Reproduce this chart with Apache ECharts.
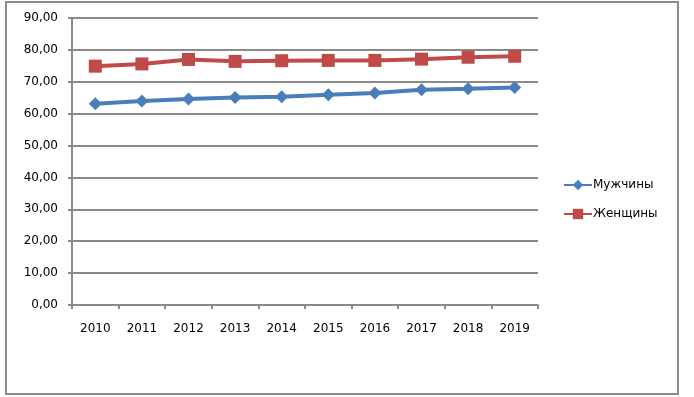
<!DOCTYPE html>
<html>
<head>
<meta charset="utf-8">
<script src="https://cdn.jsdelivr.net/npm/echarts@6/dist/echarts.min.js"></script>
<style>
  html, body { margin: 0; padding: 0; background: #fff; }
  #frame { position: absolute; left: 5px; top: 1px; width: 670px; height: 390px; border: 2px solid #8c8c8c; }
  #chart { position: absolute; left: 0; top: 0; width: 694px; height: 397px; }
</style>
</head>
<body>
<div id="frame"></div>
<div id="chart"></div>
<script>
const years = ['2010', '2011', '2012', '2013', '2014', '2015', '2016', '2017', '2018', '2019']
const men = [63.1, 64.0, 64.6, 65.1, 65.3, 65.9, 66.5, 67.5, 67.8, 68.2]
const women = [74.9, 75.6, 77.0, 76.4, 76.6, 76.7, 76.7, 77.1, 77.7, 78.0]

const font = 'Verdana, "DejaVu Sans", sans-serif'
const gridColor = '#8a8a8a'
const chart = echarts.init(document.getElementById('chart'))

chart.setOption({
  animation: false,
  textStyle: { fontFamily: font },
  grid: { left: 72, right: 156, top: 18, bottom: 92, containLabel: false },
  legend: {
    orient: 'vertical',
    left: 558,
    top: 174,
    itemGap: 17,
    itemWidth: 28,
    itemHeight: 13,
    textStyle: { fontFamily: font, fontSize: 12, color: '#000', padding: [0, 0, 0, -4] },
    data: ['Мужчины', 'Женщины']
  },
  xAxis: {
    type: 'category',
    data: years,
    boundaryGap: true,
    axisLine: { lineStyle: { color: gridColor, width: 2 } },
    axisTick: { show: true, length: 4, lineStyle: { color: gridColor, width: 2 } },
    axisLabel: { color: '#000', fontSize: 12, margin: 18, fontFamily: font }
  },
  yAxis: {
    type: 'value',
    min: 0,
    max: 90,
    interval: 10,
    axisLine: { show: true, lineStyle: { color: gridColor, width: 2 } },
    axisTick: { show: true, length: 4, lineStyle: { color: gridColor, width: 2 } },
    splitLine: { lineStyle: { color: gridColor, width: 2 } },
    axisLabel: {
      color: '#000',
      fontSize: 12,
      margin: 14,
      fontFamily: font,
      formatter: v => v.toFixed(2).replace('.', ',')
    }
  },
  series: [
    {
      name: 'Мужчины',
      type: 'line',
      data: men,
      symbol: 'diamond',
      symbolSize: 13,
      lineStyle: { color: '#4a7ebb', width: 4 },
      itemStyle: { color: '#4a7ebb' }
    },
    {
      name: 'Женщины',
      type: 'line',
      data: women,
      symbol: 'rect',
      symbolSize: 13,
      lineStyle: { color: '#be4b48', width: 4 },
      itemStyle: { color: '#be4b48' }
    }
  ]
})
</script>
</body>
</html>
